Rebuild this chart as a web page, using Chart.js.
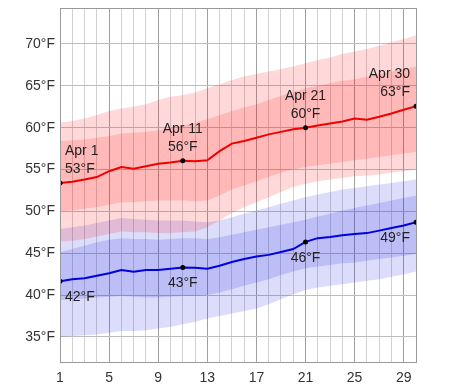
<!DOCTYPE html>
<html>
<head>
<meta charset="utf-8">
<script src="https://cdn.jsdelivr.net/npm/chart.js@4.4.1/dist/chart.umd.min.js"></script>
<style>
  html, body { margin: 0; padding: 0; background: #fff; }
  #wrap { width: 474px; height: 389px; }
</style>
</head>
<body>
<div id="wrap"><canvas id="grafica" width="474" height="389"></canvas></div>
<script>
// dias de abril
const dias = Array.from({length: 30}, (_, i) => i + 1)

// maxima diaria promedio y bandas (percentiles 10/25/75/90)
const maxMedia = [53.4,53.55,53.8,54.1,54.8,55.3,55.1,55.4,55.7,55.85,56.05,56.0,56.1,57.2,58.1,58.4,58.8,59.2,59.5,59.8,60.0,60.25,60.5,60.75,61.1,60.95,61.3,61.7,62.15,62.55]
const maxP90 = [60.6,60.8,61.1,61.5,62.0,62.3,62.5,62.8,63.3,63.7,63.9,64.2,64.7,65.2,65.7,66.1,66.4,66.7,67.0,67.3,67.7,68.1,68.4,68.8,69.1,69.4,69.8,70.2,70.6,71.0]
const maxP75 = [58.4,58.5,58.6,58.8,59.0,59.3,59.4,59.5,59.7,60.0,60.3,60.6,61.0,61.5,62.0,62.4,62.8,63.3,63.8,64.3,64.7,65.0,65.3,65.6,65.8,66.1,66.4,66.7,67.0,67.3]
const maxP25 = [50.0,50.1,50.3,50.5,50.8,51.1,51.1,51.2,51.3,51.3,51.3,51.2,51.3,51.9,52.6,53.1,53.6,54.1,54.6,55.0,55.3,55.5,55.7,55.9,56.1,56.3,56.5,56.7,56.9,57.1]
const maxP10 = [46.4,46.5,46.7,47.0,47.3,47.6,47.5,47.5,47.4,47.4,47.5,47.6,48.1,48.9,49.8,50.5,51.1,51.7,52.3,52.9,53.3,53.6,53.8,54.0,54.2,54.3,54.4,54.6,54.8,55.0]

// minima diaria promedio y bandas
const minMedia = [41.65,41.9,42.0,42.3,42.6,43.0,42.8,43.0,43.0,43.15,43.3,43.25,43.15,43.5,43.95,44.3,44.6,44.8,45.15,45.5,46.35,46.8,46.95,47.15,47.3,47.4,47.7,48.0,48.3,48.7]
const minP90 = [47.9,48.1,48.3,48.6,48.9,49.2,49.1,49.0,48.9,48.9,48.9,48.8,48.7,48.9,49.3,49.7,50.1,50.5,50.9,51.3,51.7,52.0,52.3,52.6,52.8,53.0,53.2,53.4,53.6,53.8]
const minP75 = [45.1,45.5,45.9,46.3,46.6,46.8,46.7,46.7,46.6,46.7,46.8,46.8,46.7,46.9,47.2,47.5,47.8,48.1,48.4,48.7,49.0,49.4,49.7,50.1,50.4,50.7,51.0,51.3,51.6,51.9]
const minP25 = [39.4,39.5,39.6,39.7,39.8,39.9,39.8,39.7,39.7,39.8,39.9,39.9,40.0,40.3,40.7,41.1,41.5,41.9,42.4,42.8,43.2,43.4,43.6,43.8,43.9,44.1,44.3,44.5,44.7,44.9]
const minP10 = [35.0,35.1,35.2,35.3,35.5,35.7,35.7,35.8,36.0,36.2,36.5,36.8,37.2,37.5,37.8,38.1,38.4,38.9,39.5,40.1,40.6,40.9,41.1,41.3,41.5,41.7,41.9,42.2,42.5,42.8]

// dias con etiqueta
const diasMarcados = [1, 11, 21, 30]
const ticksX = [1, 5, 9, 13, 17, 21, 25, 29]
const ticksY = [35, 40, 45, 50, 55, 60, 65, 70]

function puntos(valores){
    return dias.map((d, i) => ({x: d, y: valores[i]}))
}

function banda(valores, color, relleno){
    return {
        data: puntos(valores),
        borderWidth: 0,
        pointRadius: 0,
        backgroundColor: color,
        fill: relleno,
        tension: 0,
    }
}

function linea(valores, color){
    return {
        data: puntos(valores),
        borderColor: color,
        borderWidth: 2,
        fill: false,
        tension: 0,
        pointRadius: dias.map(d => diasMarcados.includes(d) ? 2.5 : 0),
        pointBackgroundColor: '#000',
        pointBorderWidth: 0,
    }
}

const rosa = 'rgba(255,0,0,0.15)'
const azul = 'rgba(20,20,230,0.15)'

// etiquetas de texto sobre las curvas
const etiquetas = {
    id: 'etiquetas',
    afterDatasetsDraw(chart){
        const ctx = chart.ctx
        const x = chart.scales.x, y = chart.scales.y
        ctx.save()
        ctx.font = '14px "Liberation Sans", Arial, sans-serif'
        ctx.fillStyle = '#222'
        ctx.textBaseline = 'middle'
        diasMarcados.forEach((d, k) => {
            const i = d - 1
            const px = x.getPixelForValue(d)
            let align = 'center', dx = 0
            if (k === 0){ align = 'left'; dx = 5 }
            if (k === diasMarcados.length - 1){ align = 'right'; dx = -6 }
            ctx.textAlign = align
            const pyMax = y.getPixelForValue(maxMedia[i])
            ctx.fillText('Apr ' + d, px + dx, pyMax - 32)
            ctx.fillText(Math.round(maxMedia[i]) + '°F', px + dx, pyMax - 14)
            const pyMin = y.getPixelForValue(minMedia[i])
            ctx.fillText(Math.round(minMedia[i]) + '°F', px + dx, pyMin + 16)
        })
        ctx.restore()
    }
}

// borde del area de grafica
const borde = {
    id: 'borde',
    afterDraw(chart){
        const a = chart.chartArea, ctx = chart.ctx
        ctx.save()
        ctx.strokeStyle = '#999'
        ctx.lineWidth = 1
        ctx.strokeRect(Math.round(a.left) + 0.5, Math.round(a.top) + 0.5, Math.round(a.right - a.left), Math.round(a.bottom - a.top))
        ctx.restore()
    }
}

var graficaTemp = new Chart(document.getElementById('grafica'), {
    type: 'line',
    data: {
        datasets: [
            linea(maxMedia, '#f00000'),
            linea(minMedia, '#0000e0'),
            banda(maxP90, rosa, '+1'),
            banda(maxP10, 'transparent', false),
            banda(maxP75, rosa, '+1'),
            banda(maxP25, 'transparent', false),
            banda(minP90, azul, '+1'),
            banda(minP10, 'transparent', false),
            banda(minP75, azul, '+1'),
            banda(minP25, 'transparent', false),
        ]
    },
    options: {
        responsive: false,
        animation: false,
        layout: { padding: { top: 8, right: 58, left: 0, bottom: 0 } },
        plugins: {
            legend: { display: false },
            tooltip: { enabled: false },
        },
        scales: {
            x: {
                type: 'linear',
                min: 1,
                max: 30,
                afterBuildTicks: s => { s.ticks = dias.map(v => ({value: v})) },
                afterFit: s => { s.height = 27; s.paddingLeft = 0; s.paddingRight = 0 },
                grid: {
                    drawTicks: false,
                    color: c => ticksX.includes(c.tick && c.tick.value) ? '#a0a0a0' : '#d2d2d2',
                },
                border: { display: false },
                ticks: {
                    autoSkip: false,
                    maxRotation: 0,
                    padding: 8,
                    color: '#333',
                    font: { family: '"Liberation Sans", Arial, sans-serif', size: 14 },
                    callback: v => ticksX.includes(v) ? String(v) : '',
                },
            },
            y: {
                min: 32,
                max: 74.3,
                afterBuildTicks: s => { s.ticks = ticksY.map(v => ({value: v})) },
                afterFit: s => { s.width = 60; s.paddingTop = 0; s.paddingBottom = 0 },
                grid: { drawTicks: false, color: '#bdbdbd' },
                border: { display: false },
                ticks: {
                    padding: 5,
                    color: '#333',
                    font: { family: '"Liberation Sans", Arial, sans-serif', size: 14 },
                    callback: v => v + '°F',
                },
            },
        },
    },
    plugins: [etiquetas, borde],
})
</script>
</body>
</html>
